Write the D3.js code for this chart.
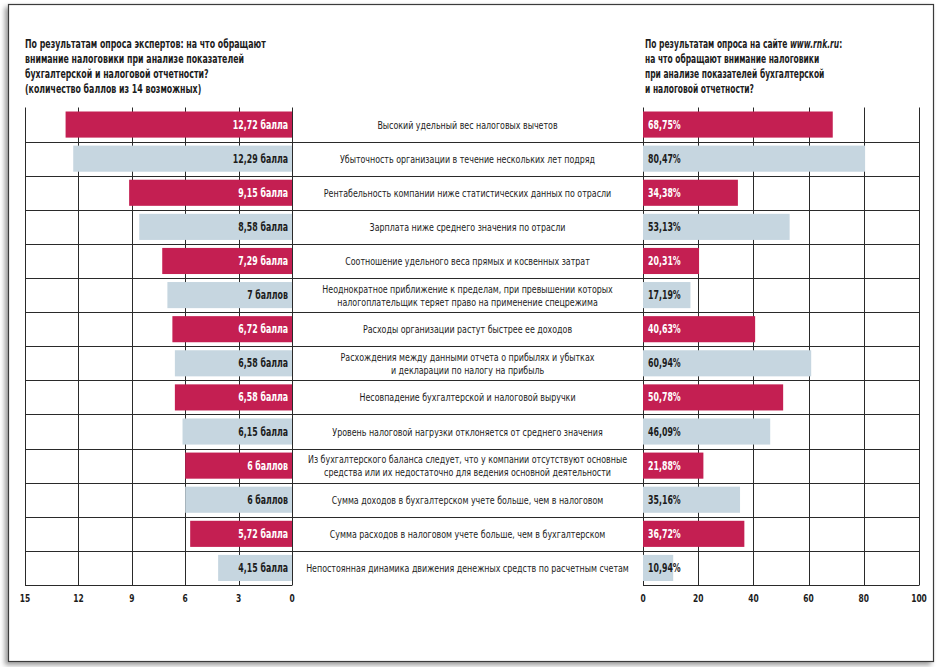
<!DOCTYPE html>
<html>
<head>
<meta charset="utf-8">
<script src="https://cdn.jsdelivr.net/npm/d3@7/dist/d3.min.js"></script>
<style>
html,body{margin:0;padding:0;background:#fff;}
svg{display:block;font-family:'DejaVu Sans Condensed','DejaVu Sans',sans-serif;}
</style>
</head>
<body>
<svg id="chart" width="944" height="667"></svg>
<script>
const leftTitle = [
  "По результатам опроса экспертов: на что обращают",
  "внимание налоговики при анализе показателей",
  "бухгалтерской и налоговой отчетности?",
  "(количество баллов из 14 возможных)"
];
const rightTitleLines = [
  [["По результатам опроса на сайте ", false], ["www.rnk.ru", true], [":", false]],
  [["на что обращают внимание налоговики", false]],
  [["при анализе показателей бухгалтерской", false]],
  [["и налоговой отчетности?", false]]
];
const categories = [
  ["Высокий удельный вес налоговых вычетов"],
  ["Убыточность организации в течение нескольких лет подряд"],
  ["Рентабельность компании ниже статистических данных по отрасли"],
  ["Зарплата ниже среднего значения по отрасли"],
  ["Соотношение удельного веса прямых и косвенных затрат"],
  ["Неоднократное приближение к пределам, при превышении которых", "налогоплательщик теряет право на применение спецрежима"],
  ["Расходы организации растут быстрее ее доходов"],
  ["Расхождения между данными отчета о прибылях и убытках", "и декларации по налогу на прибыль"],
  ["Несовпадение бухгалтерской и налоговой выручки"],
  ["Уровень налоговой нагрузки отклоняется от среднего значения"],
  ["Из бухгалтерского баланса следует, что у компании отсутствуют основные", "средства или их недостаточно для ведения основной деятельности"],
  ["Сумма доходов в бухгалтерском учете больше, чем в налоговом"],
  ["Сумма расходов в налоговом учете больше, чем в бухгалтерском"],
  ["Непостоянная динамика движения денежных средств по расчетным счетам"]
];
const expertScores = [12.72, 12.29, 9.15, 8.58, 7.29, 7, 6.72, 6.58, 6.58, 6.15, 6, 6, 5.72, 4.15];
const expertLabels = ["12,72 балла","12,29 балла","9,15 балла","8,58 балла","7,29 балла","7 баллов","6,72 балла","6,58 балла","6,58 балла","6,15 балла","6 баллов","6 баллов","5,72 балла","4,15 балла"];
const sitePercents = [68.75, 80.47, 34.38, 53.13, 20.31, 17.19, 40.63, 60.94, 50.78, 46.09, 21.88, 35.16, 36.72, 10.94];
const siteLabels = ["68,75%","80,47%","34,38%","53,13%","20,31%","17,19%","40,63%","60,94%","50,78%","46,09%","21,88%","35,16%","36,72%","10,94%"];
const leftTicks = [15, 12, 9, 6, 3, 0];
const rightTicks = [0, 20, 40, 60, 80, 100];

const RED = "#c41f52", BLUE = "#c6d6e0", INK = "#1c1c1c", GRID = "#2a2a2a";
const svg = d3.select("#chart");

// condensed text helper: horizontal squeeze to mimic a condensed face
function ctext(parent, x, y, sx, opts) {
  const t = parent.append("text")
    .attr("transform", `translate(${x},${y}) scale(${sx},1)`)
    .attr("font-size", opts.size).attr("fill", opts.fill || INK)
    .attr("text-anchor", opts.anchor || "start");
  if (opts.bold) t.attr("font-weight", "bold");
  return t;
}

// page frame with shadow
const defs = svg.append("defs");
const f = defs.append("filter").attr("id","sh").attr("x","-5%").attr("y","-5%").attr("width","110%").attr("height","110%");
f.append("feDropShadow").attr("dx",-3).attr("dy",3).attr("stdDeviation",2.5).attr("flood-color","#000").attr("flood-opacity",0.4);
svg.append("rect").attr("x",8.5).attr("y",4.5).attr("width",925).attr("height",657)
  .attr("fill","#fff").attr("stroke","#3a3a3a").attr("stroke-width",1.2).attr("filter","url(#sh)");

const yTop = 107.5, yBottom = 585;
const xL = d3.scaleLinear().domain([0, 15]).range([292, 25]);
const xR = d3.scaleLinear().domain([0, 100]).range([643, 919]);
const idx = d3.range(categories.length);
const row = d3.scaleBand().domain(idx).range([yTop, yBottom]);
const inset = 4;

const g = svg.append("g");
g.selectAll(".vl").data(leftTicks).join("line")
  .attr("x1", d => Math.round(xL(d)) + 0.5).attr("x2", d => Math.round(xL(d)) + 0.5)
  .attr("y1", yTop).attr("y2", yBottom).attr("stroke", GRID).attr("stroke-width", 1);
g.selectAll(".vr").data(rightTicks).join("line")
  .attr("x1", d => Math.round(xR(d)) + 0.5).attr("x2", d => Math.round(xR(d)) + 0.5)
  .attr("y1", yTop).attr("y2", yBottom).attr("stroke", GRID).attr("stroke-width", 1);
g.selectAll(".hl").data(idx.slice(1)).join("line")
  .attr("x1", xL(15)).attr("x2", xR(100))
  .attr("y1", d => Math.round(row(d)) + 0.5).attr("y2", d => Math.round(row(d)) + 0.5)
  .attr("stroke", GRID).attr("stroke-width", 1);
[[xL(15), xL(0)], [xR(0), xR(100)]].forEach(([a, b]) => {
  g.append("line").attr("x1", a).attr("x2", b + 0.5).attr("y1", yBottom + 0.5).attr("y2", yBottom + 0.5)
    .attr("stroke", GRID).attr("stroke-width", 1);
});

// bars
const color = i => i % 2 === 0 ? RED : BLUE;
svg.selectAll(".bl").data(expertScores).join("rect")
  .attr("x", d => xL(d)).attr("width", d => xL(0) - xL(d))
  .attr("y", (d, i) => row(i) + inset).attr("height", row.bandwidth() - 2 * inset)
  .attr("fill", (d, i) => color(i));
svg.selectAll(".br").data(sitePercents).join("rect")
  .attr("x", xR(0)).attr("width", d => xR(d) - xR(0))
  .attr("y", (d, i) => row(i) + inset).attr("height", row.bandwidth() - 2 * inset)
  .attr("fill", (d, i) => color(i));

const SQB = 0.76, SQN = 0.80;
// value labels
expertLabels.forEach((s, i) => {
  ctext(svg, xL(0) - 4, row(i) + row.bandwidth() / 2 + 4, SQB,
    {size: 11.5, bold: true, anchor: "end", fill: i % 2 === 0 ? "#fff" : INK}).text(s);
});
siteLabels.forEach((s, i) => {
  ctext(svg, xR(0) + 5, row(i) + row.bandwidth() / 2 + 4, SQB,
    {size: 11.5, bold: true, anchor: "start", fill: i % 2 === 0 ? "#fff" : INK}).text(s);
});

// category labels
const cx = (xL(0) + xR(0)) / 2;
categories.forEach((lines, i) => {
  const yc = row(i) + row.bandwidth() / 2;
  const t = ctext(svg, cx, yc + 4, SQN, {size: 11, anchor: "middle"});
  lines.forEach((ln, k) => {
    t.append("tspan").attr("x", 0).attr("y", (k - (lines.length - 1) / 2) * 13).text(ln);
  });
});

// axis tick labels
leftTicks.forEach(d => ctext(svg, xL(d), 602, SQB, {size: 11, bold: true, anchor: "middle"}).text(d));
rightTicks.forEach(d => ctext(svg, xR(d), 602, SQB, {size: 11, bold: true, anchor: "middle"}).text(d));

// titles
const tl = ctext(svg, 25, 48, SQB, {size: 11.5, bold: true});
leftTitle.forEach((ln, k) => tl.append("tspan").attr("x", 0).attr("y", k * 15).text(ln));
const tr = ctext(svg, 645, 48, 0.73, {size: 11.5, bold: true});
rightTitleLines.forEach((parts, k) => {
  parts.forEach(([s, it], j) => {
    const sp = tr.append("tspan").text(s);
    if (j === 0) sp.attr("x", 0).attr("y", k * 15);
    if (it) sp.attr("font-style", "italic");
  });
});
</script>
</body>
</html>
